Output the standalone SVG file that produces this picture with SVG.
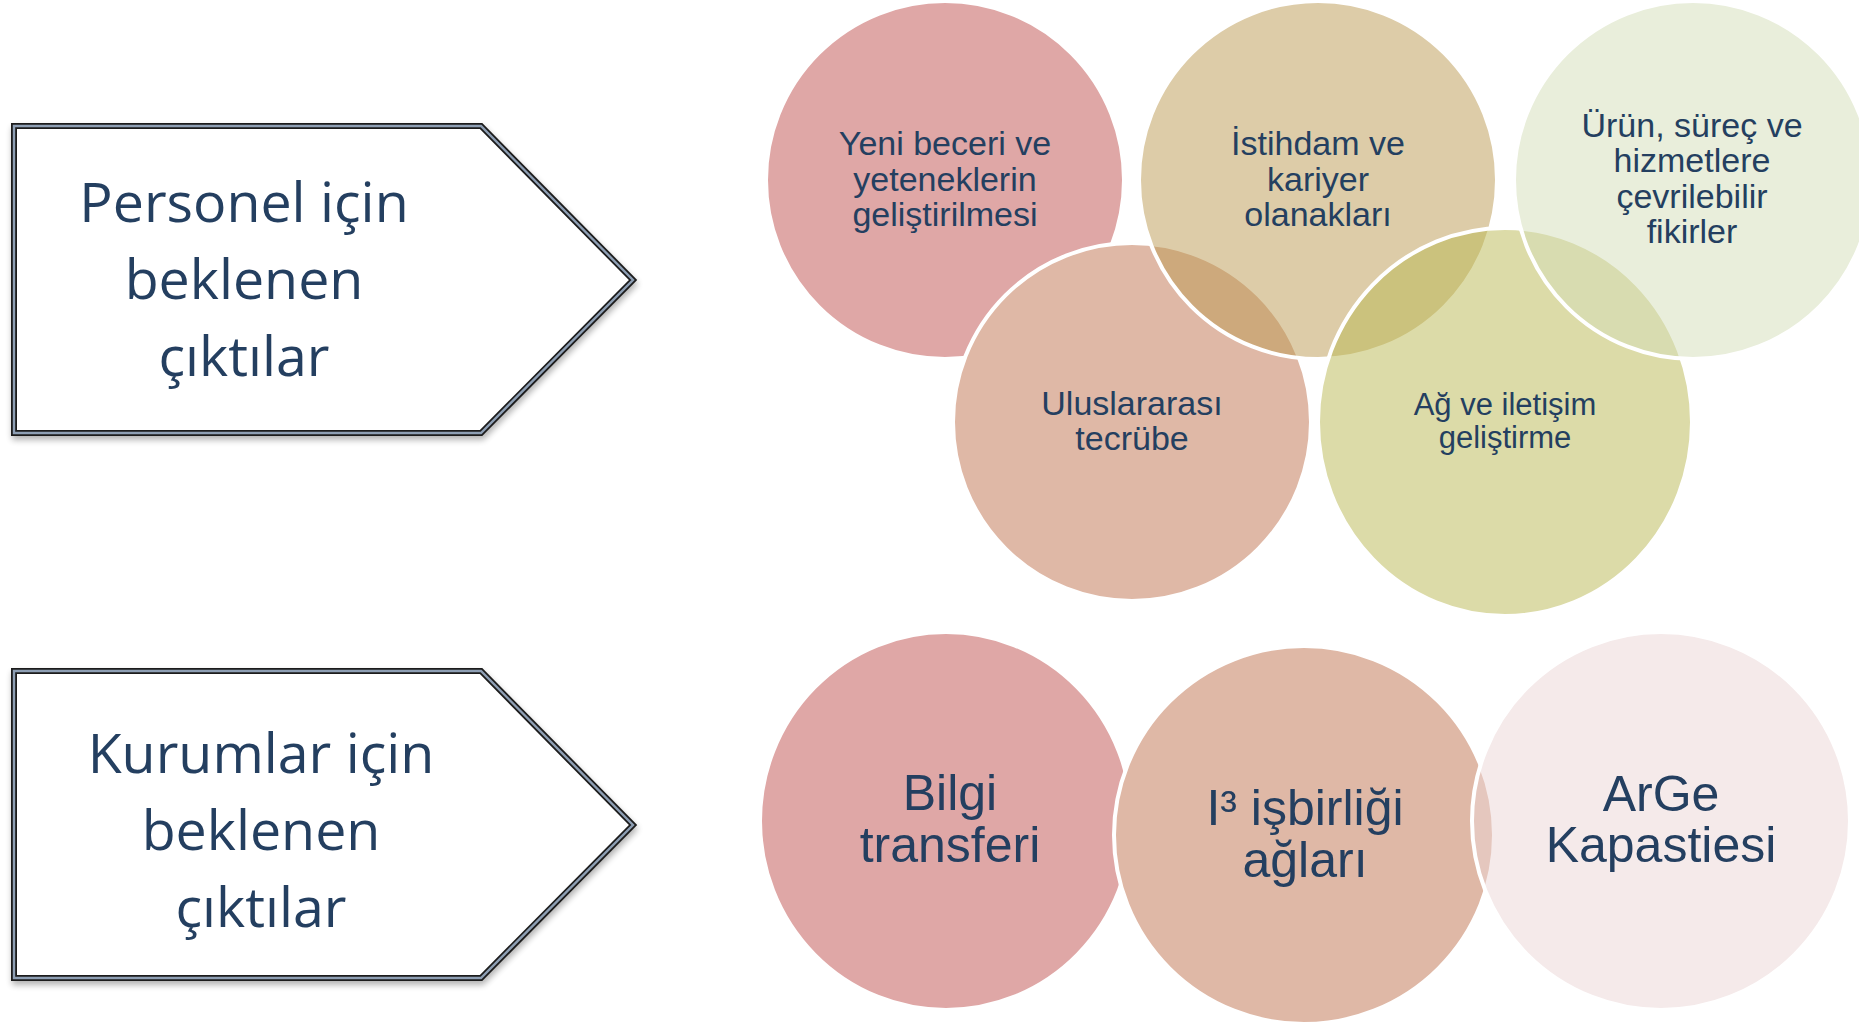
<svg xmlns="http://www.w3.org/2000/svg" width="1859" height="1023" viewBox="0 0 1859 1023">
<defs>
<style>
.arrow-out{fill:#ffffff;stroke:#1e1e1e;stroke-width:6;stroke-linejoin:miter}
.arrow-in{fill:none;stroke:#8e9fb4;stroke-width:2.4;stroke-linejoin:miter}
.atxt{font-family:"Open Sans","Noto Sans",sans-serif;font-size:55.5px;fill:#243f60;text-anchor:middle}
.ctxt{font-family:"Liberation Sans",Arial,sans-serif;font-size:34px;fill:#243f60;text-anchor:middle}
.btxt{font-family:"Liberation Sans",Arial,sans-serif;font-size:50px;fill:#243f60;text-anchor:middle}
.ring{stroke:#ffffff;stroke-width:4}
</style>
<filter id="shadow" x="-5%" y="-5%" width="115%" height="120%">
<feGaussianBlur in="SourceAlpha" stdDeviation="3"/>
<feOffset dx="1" dy="4" result="b"/>
<feComponentTransfer><feFuncA type="linear" slope="0.3"/></feComponentTransfer>
<feMerge><feMergeNode/><feMergeNode in="SourceGraphic"/></feMerge>
</filter>
</defs>
<rect width="1859" height="1023" fill="#ffffff"/>

<g id="arrow-personel">
<path class="arrow-out" filter="url(#shadow)" d="M14,126 L481,126 L633,280 L481,433 L14,433 Z"/>
<path class="arrow-in" d="M14,126 L481,126 L633,280 L481,433 L14,433 Z"/>
<text class="atxt" x="244" y="222">Personel için</text>
<text class="atxt" x="244" y="299">beklenen</text>
<text class="atxt" x="244" y="376">çıktılar</text>
</g>

<g id="arrow-kurumlar">
<path class="arrow-out" filter="url(#shadow)" d="M14,671 L481,671 L633,825 L481,978 L14,978 Z"/>
<path class="arrow-in" d="M14,671 L481,671 L633,825 L481,978 L14,978 Z"/>
<text class="atxt" x="261" y="773">Kurumlar için</text>
<text class="atxt" x="261" y="850">beklenen</text>
<text class="atxt" x="261" y="927">çıktılar</text>
</g>

<g id="node-yeni-beceri">
<circle class="ring" cx="945" cy="180" r="179" fill="#dfa7a6"/>
</g>
<g id="node-uluslararasi">
<circle class="ring" cx="1132" cy="422" r="179" fill="#dfb8a6"/>
</g>
<g id="node-istihdam">
<circle class="ring" cx="1318" cy="180" r="179" fill="#bb9951" fill-opacity="0.5"/>
</g>
<g id="node-ag">
<ellipse class="ring" cx="1505" cy="422" rx="187" ry="194" fill="#b9b751" fill-opacity="0.5"/>
</g>
<g id="node-urun">
<circle class="ring" cx="1693" cy="180" r="179" fill="#d3ddb7" fill-opacity="0.5"/>
</g>

<g id="labels-top">
<text class="ctxt" x="945" y="155">Yeni beceri ve</text>
<text class="ctxt" x="945" y="191">yeteneklerin</text>
<text class="ctxt" x="945" y="226">geliştirilmesi</text>
<text class="ctxt" x="1318" y="155">İstihdam ve</text>
<text class="ctxt" x="1318" y="191">kariyer</text>
<text class="ctxt" x="1318" y="226">olanakları</text>
<text class="ctxt" x="1692" y="137">Ürün, süreç ve</text>
<text class="ctxt" x="1692" y="172">hizmetlere</text>
<text class="ctxt" x="1692" y="208">çevrilebilir</text>
<text class="ctxt" x="1692" y="243">fikirler</text>
<text class="ctxt" x="1132" y="415">Uluslararası</text>
<text class="ctxt" x="1132" y="450">tecrübe</text>
<text class="ctxt" x="1505" y="415" style="font-size:31px">Ağ ve iletişim</text>
<text class="ctxt" x="1505" y="448" style="font-size:31px">geliştirme</text>
</g>

<g id="node-bilgi">
<ellipse class="ring" cx="946" cy="821" rx="186" ry="189" fill="#dfa7a6"/>
<text class="btxt" x="950" y="810">Bilgi</text>
<text class="btxt" x="950" y="862">transferi</text>
</g>
<g id="node-isbirligi">
<ellipse class="ring" cx="1304" cy="835" rx="190" ry="189" fill="#dfb8a6"/>
<text class="btxt" x="1305" y="825">I³ işbirliği</text>
<text class="btxt" x="1305" y="877">ağları</text>
</g>
<g id="node-arge">
<ellipse class="ring" cx="1661" cy="821" rx="189" ry="189" fill="#ebd5d5" fill-opacity="0.5"/>
<text class="btxt" x="1661" y="811">ArGe</text>
<text class="btxt" x="1661" y="862">Kapastiesi</text>
</g>
</svg>
